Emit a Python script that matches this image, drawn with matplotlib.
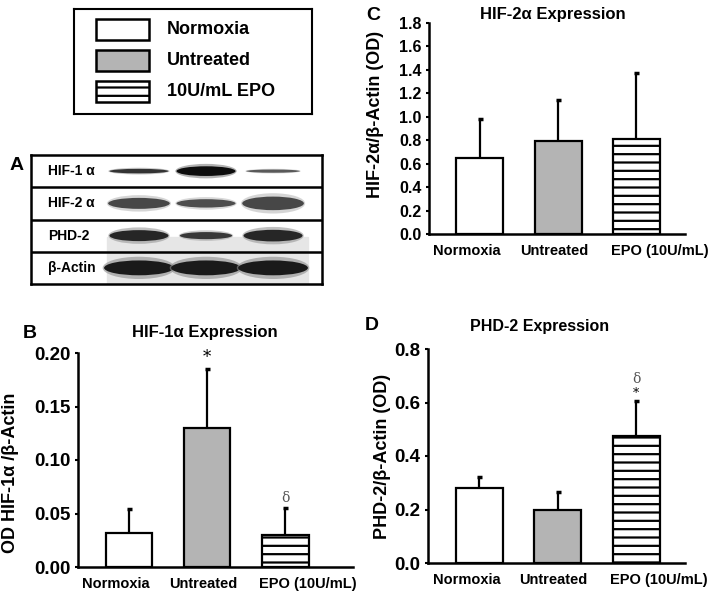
import matplotlib
matplotlib.use("Agg")
import matplotlib.pyplot as plt
from matplotlib.patches import Ellipse, Rectangle

plt.rcParams['font.family'] = ['Liberation Sans', 'DejaVu Sans']
plt.rcParams['font.weight'] = 'bold'
plt.rcParams['hatch.linewidth'] = 1.6

groups = ["Normoxia", "Untreated", "EPO (10U/mL)"]
legend_labels = ["Normoxia", "Untreated", "10U/mL EPO"]
face_colors = ["white", "#b4b4b4", "white"]
hatches = [None, None, "--"]

# panel B - HIF-1a
hif1_mean = [0.032, 0.130, 0.030]
hif1_err = [0.022, 0.055, 0.025]
hif1_ticks = [0.00, 0.05, 0.10, 0.15, 0.20]
# panel C - HIF-2a
hif2_mean = [0.65, 0.79, 0.81]
hif2_err = [0.33, 0.35, 0.56]
hif2_ticks = [0.0, 0.2, 0.4, 0.6, 0.8, 1.0, 1.2, 1.4, 1.6, 1.8]
# panel D - PHD-2
phd2_mean = [0.28, 0.20, 0.475]
phd2_err = [0.04, 0.065, 0.13]
phd2_ticks = [0.0, 0.2, 0.4, 0.6, 0.8]

# blot panel A: row labels, band thickness / darkness / width per lane
blot_rows = ["HIF-1 \u03b1", "HIF-2 \u03b1", "PHD-2", "\u03b2-Actin"]
band_thick = [[0.14, 0.30, 0.10],
              [0.34, 0.26, 0.42],
              [0.34, 0.22, 0.36],
              [0.46, 0.46, 0.46]]
band_gray = [[0.20, 0.05, 0.35],
             [0.28, 0.30, 0.28],
             [0.15, 0.22, 0.15],
             [0.10, 0.10, 0.10]]
band_width = [[0.88, 0.88, 0.80],
              [0.92, 0.88, 0.92],
              [0.88, 0.78, 0.88],
              [1.04, 1.04, 1.04]]

W, H = 714, 597
fig = plt.figure(figsize=(W / 100, H / 100), dpi=100)


def px_axes(x0, y0, x1, y1):
    return fig.add_axes([x0 / W, 1 - y1 / H, (x1 - x0) / W, (y1 - y0) / H])


def bar_panel(ax, means, errs, ticks, tick_size, xlim):
    x = list(range(len(groups)))
    for i in x:
        ax.bar(i, means[i], width=0.6, color=face_colors[i], edgecolor="black",
               linewidth=1.6, hatch=hatches[i], zorder=2)
    eb = ax.errorbar(x, means, yerr=[[0] * 3, errs], fmt="none", ecolor="black",
                     elinewidth=1.6, capsize=1.8, capthick=2.5, zorder=3)
    eb[1][0].set_visible(False)  # only upper caps
    ax.set_xlim(*xlim)
    ax.set_ylim(ticks[0], ticks[-1])
    ax.set_yticks(ticks)
    dec = 2 if ticks[-1] < 0.5 else 1
    ax.set_yticklabels([f"{t:.{dec}f}" for t in ticks], fontsize=tick_size, fontweight="bold")
    # labels sit slightly off the bar centres, as in the original figure
    ax.set_xticks([0.27, 0.95, 1.67])
    ax.set_xticklabels(groups, fontsize=10.5, fontweight="bold")
    for lab, ha in zip(ax.get_xticklabels(), ["right", "center", "left"]):
        lab.set_ha(ha)
    ax.tick_params(axis="x", length=0, pad=7)
    ax.tick_params(axis="y", length=2.5, width=1.5, pad=3)
    for s in ["top", "right"]:
        ax.spines[s].set_visible(False)
    for s in ["left", "bottom"]:
        ax.spines[s].set_linewidth(1.8)
    ax.patch.set_alpha(0)


# legend box
axL = px_axes(74, 9, 312, 114)
axL.set_xlim(0, 238)
axL.set_ylim(105, 0)
axL.set_xticks([])
axL.set_yticks([])
for s in axL.spines.values():
    s.set_linewidth(1.5)
for i, lab in enumerate(legend_labels):
    axL.add_patch(Rectangle((22, 10 + i * 31), 53, 21, facecolor=face_colors[i],
                            edgecolor="black", hatch=hatches[i], linewidth=1.8))
    axL.text(93, 20.5 + i * 31, lab, fontsize=13, fontweight="bold", va="center", ha="left")

# panel A blot
axA = px_axes(31, 155, 322, 284)
axA.set_xlim(-1.61, 2.73)
axA.set_ylim(4, 0)
axA.set_xticks([])
axA.set_yticks([])
for s in axA.spines.values():
    s.set_linewidth(1.8)
axA.add_patch(Rectangle((-0.48, 2.55), 3.0, 1.45, color="#e6e6e6", zorder=0))
for r, name in enumerate(blot_rows):
    axA.text(-1.36, r + 0.5, name, fontsize=10, fontweight="bold", va="center", ha="left")
    if r > 0:
        axA.axhline(r, color="black", lw=1.8)
    for lane in range(3):
        g = band_gray[r][lane]
        w = band_width[r][lane]
        t = band_thick[r][lane]
        axA.add_patch(Ellipse((lane, r + 0.5), w * 1.04, t * 1.5,
                              color=str(min(g + 0.45, 0.9)), alpha=0.6, lw=0))
        axA.add_patch(Ellipse((lane, r + 0.5), w, t, color=str(g), lw=0))
fig.text(10 / W, 1 - 165 / H, "A", fontsize=14, fontweight="bold", va="center")

# panel B
axB = px_axes(78, 353, 353, 567)
bar_panel(axB, hif1_mean, hif1_err, hif1_ticks, 13.5, (-0.654, 2.87))
axB.set_ylabel("OD HIF-1\u03b1 /\u03b2-Actin", fontsize=13, fontweight="bold")
axB.yaxis.set_label_coords(-0.215, 0.44)
axB.text(1, hif1_mean[1] + hif1_err[1] + 0.003, "*", ha="center", va="bottom",
         fontsize=12, family="DejaVu Serif", fontweight="normal")
axB.text(2, hif1_mean[2] + hif1_err[2] + 0.003, "\u03b4", ha="center", va="bottom",
         fontsize=10, family="DejaVu Serif", fontweight="normal", color="#555555")
fig.text(205 / W, 1 - 333 / H, "HIF-1\u03b1 Expression", ha="center", va="center",
         fontsize=12, fontweight="bold")
fig.text(30 / W, 1 - 333 / H, "B", fontsize=14, fontweight="bold", va="center", ha="center")

# panel C
axC = px_axes(429, 23, 685, 234)
bar_panel(axC, hif2_mean, hif2_err, hif2_ticks, 11.5, (-0.65, 2.62))
axC.set_ylabel("HIF-2\u03b1/\u03b2-Actin (OD)", fontsize=13, fontweight="bold")
axC.yaxis.set_label_coords(-0.176, 0.569)
fig.text(553 / W, 1 - 15 / H, "HIF-2\u03b1 Expression", ha="center", va="center",
         fontsize=12, fontweight="bold")
fig.text(373 / W, 1 - 15 / H, "C", fontsize=14, fontweight="bold", va="center", ha="center")

# panel D
axD = px_axes(428, 349, 685, 563)
bar_panel(axD, phd2_mean, phd2_err, phd2_ticks, 13.5, (-0.65, 2.62))
axD.set_ylabel("PHD-2/\u03b2-Actin (OD)", fontsize=13, fontweight="bold")
axD.yaxis.set_label_coords(-0.144, 0.5)
axD.text(2, phd2_mean[2] + phd2_err[2] + 0.004, "*", ha="center", va="bottom",
         fontsize=9, family="DejaVu Serif", fontweight="normal")
axD.text(2, phd2_mean[2] + phd2_err[2] + 0.058, "\u03b4", ha="center", va="bottom",
         fontsize=10, family="DejaVu Serif", fontweight="normal", color="#555555")
fig.text(540 / W, 1 - 326 / H, "PHD-2 Expression", ha="center", va="center",
         fontsize=11.5, fontweight="bold")
fig.text(372 / W, 1 - 326 / H, "D", fontsize=14, fontweight="bold", va="center", ha="center")

fig.savefig("out.png", dpi=100)
